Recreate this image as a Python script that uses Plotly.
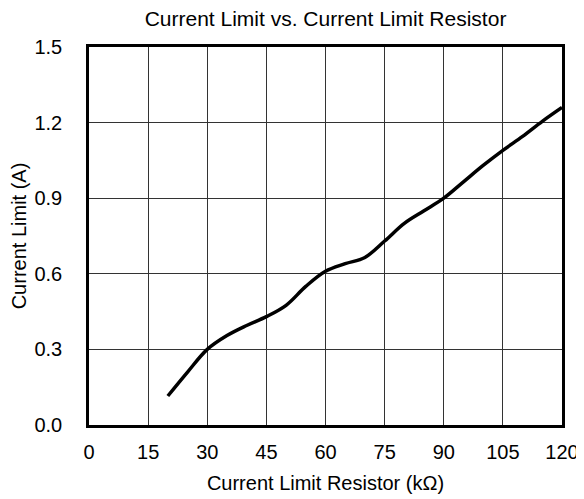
import plotly.graph_objects as go

resistor_kohm = [20, 25, 30, 35, 40, 45, 50, 55, 60, 65, 70, 75, 80, 85, 90, 95, 100, 105, 110, 115, 120]
current_limit_a = [0.115, 0.21, 0.30, 0.355, 0.395, 0.43, 0.475, 0.55, 0.61, 0.64, 0.665, 0.73, 0.80, 0.85, 0.90,
                   0.965, 1.03, 1.09, 1.145, 1.205, 1.26]
x_ticks = [0, 15, 30, 45, 60, 75, 90, 105, 120]
y_ticks = [0.0, 0.3, 0.6, 0.9, 1.2, 1.5]

fig = go.Figure()
fig.add_trace(go.Scatter(x=resistor_kohm, y=current_limit_a, mode="lines",
                         line=dict(color="black", width=3.5, shape="spline", smoothing=1.0),
                         showlegend=False))

font = "Liberation Sans, Arial, sans-serif"
W, H = 576, 491
fig.update_layout(
    width=W, height=H,
    margin=dict(l=81, r=22, t=39, b=74, autoexpand=False),
    paper_bgcolor="white", plot_bgcolor="white",
    font=dict(family=font, size=20, color="black"),
    title=dict(text="Current Limit vs. Current Limit Resistor", x=(81 + (W - 22)) / 2 / W, xanchor="center",
               y=1 - 11 / H, yanchor="middle", automargin=False,
               font=dict(size=21, family=font, color="black")),
)
fig.update_xaxes(range=[0, 120], tickvals=x_ticks, ticktext=[str(v) for v in x_ticks],
                 showgrid=True, gridcolor="#333", gridwidth=1, zeroline=False,
                 showline=True, linecolor="black", linewidth=2.5, mirror=True, ticks="",
                 ticklabelstandoff=7, automargin=False,
                 title=dict(text="Current Limit Resistor (kΩ)", standoff=15, font=dict(size=20)),
                 tickfont=dict(size=20))
fig.update_yaxes(range=[0, 1.5], tickvals=y_ticks, ticktext=[f"{v:.1f}" for v in y_ticks],
                 showgrid=True, gridcolor="#333", gridwidth=1, zeroline=False,
                 showline=True, linecolor="black", linewidth=2.5, mirror=True, ticks="",
                 ticklabelstandoff=20, automargin=False,
                 title=dict(text="Current Limit (A)", standoff=8, font=dict(size=20)),
                 tickfont=dict(size=20))

fig.write_html("out.html")
